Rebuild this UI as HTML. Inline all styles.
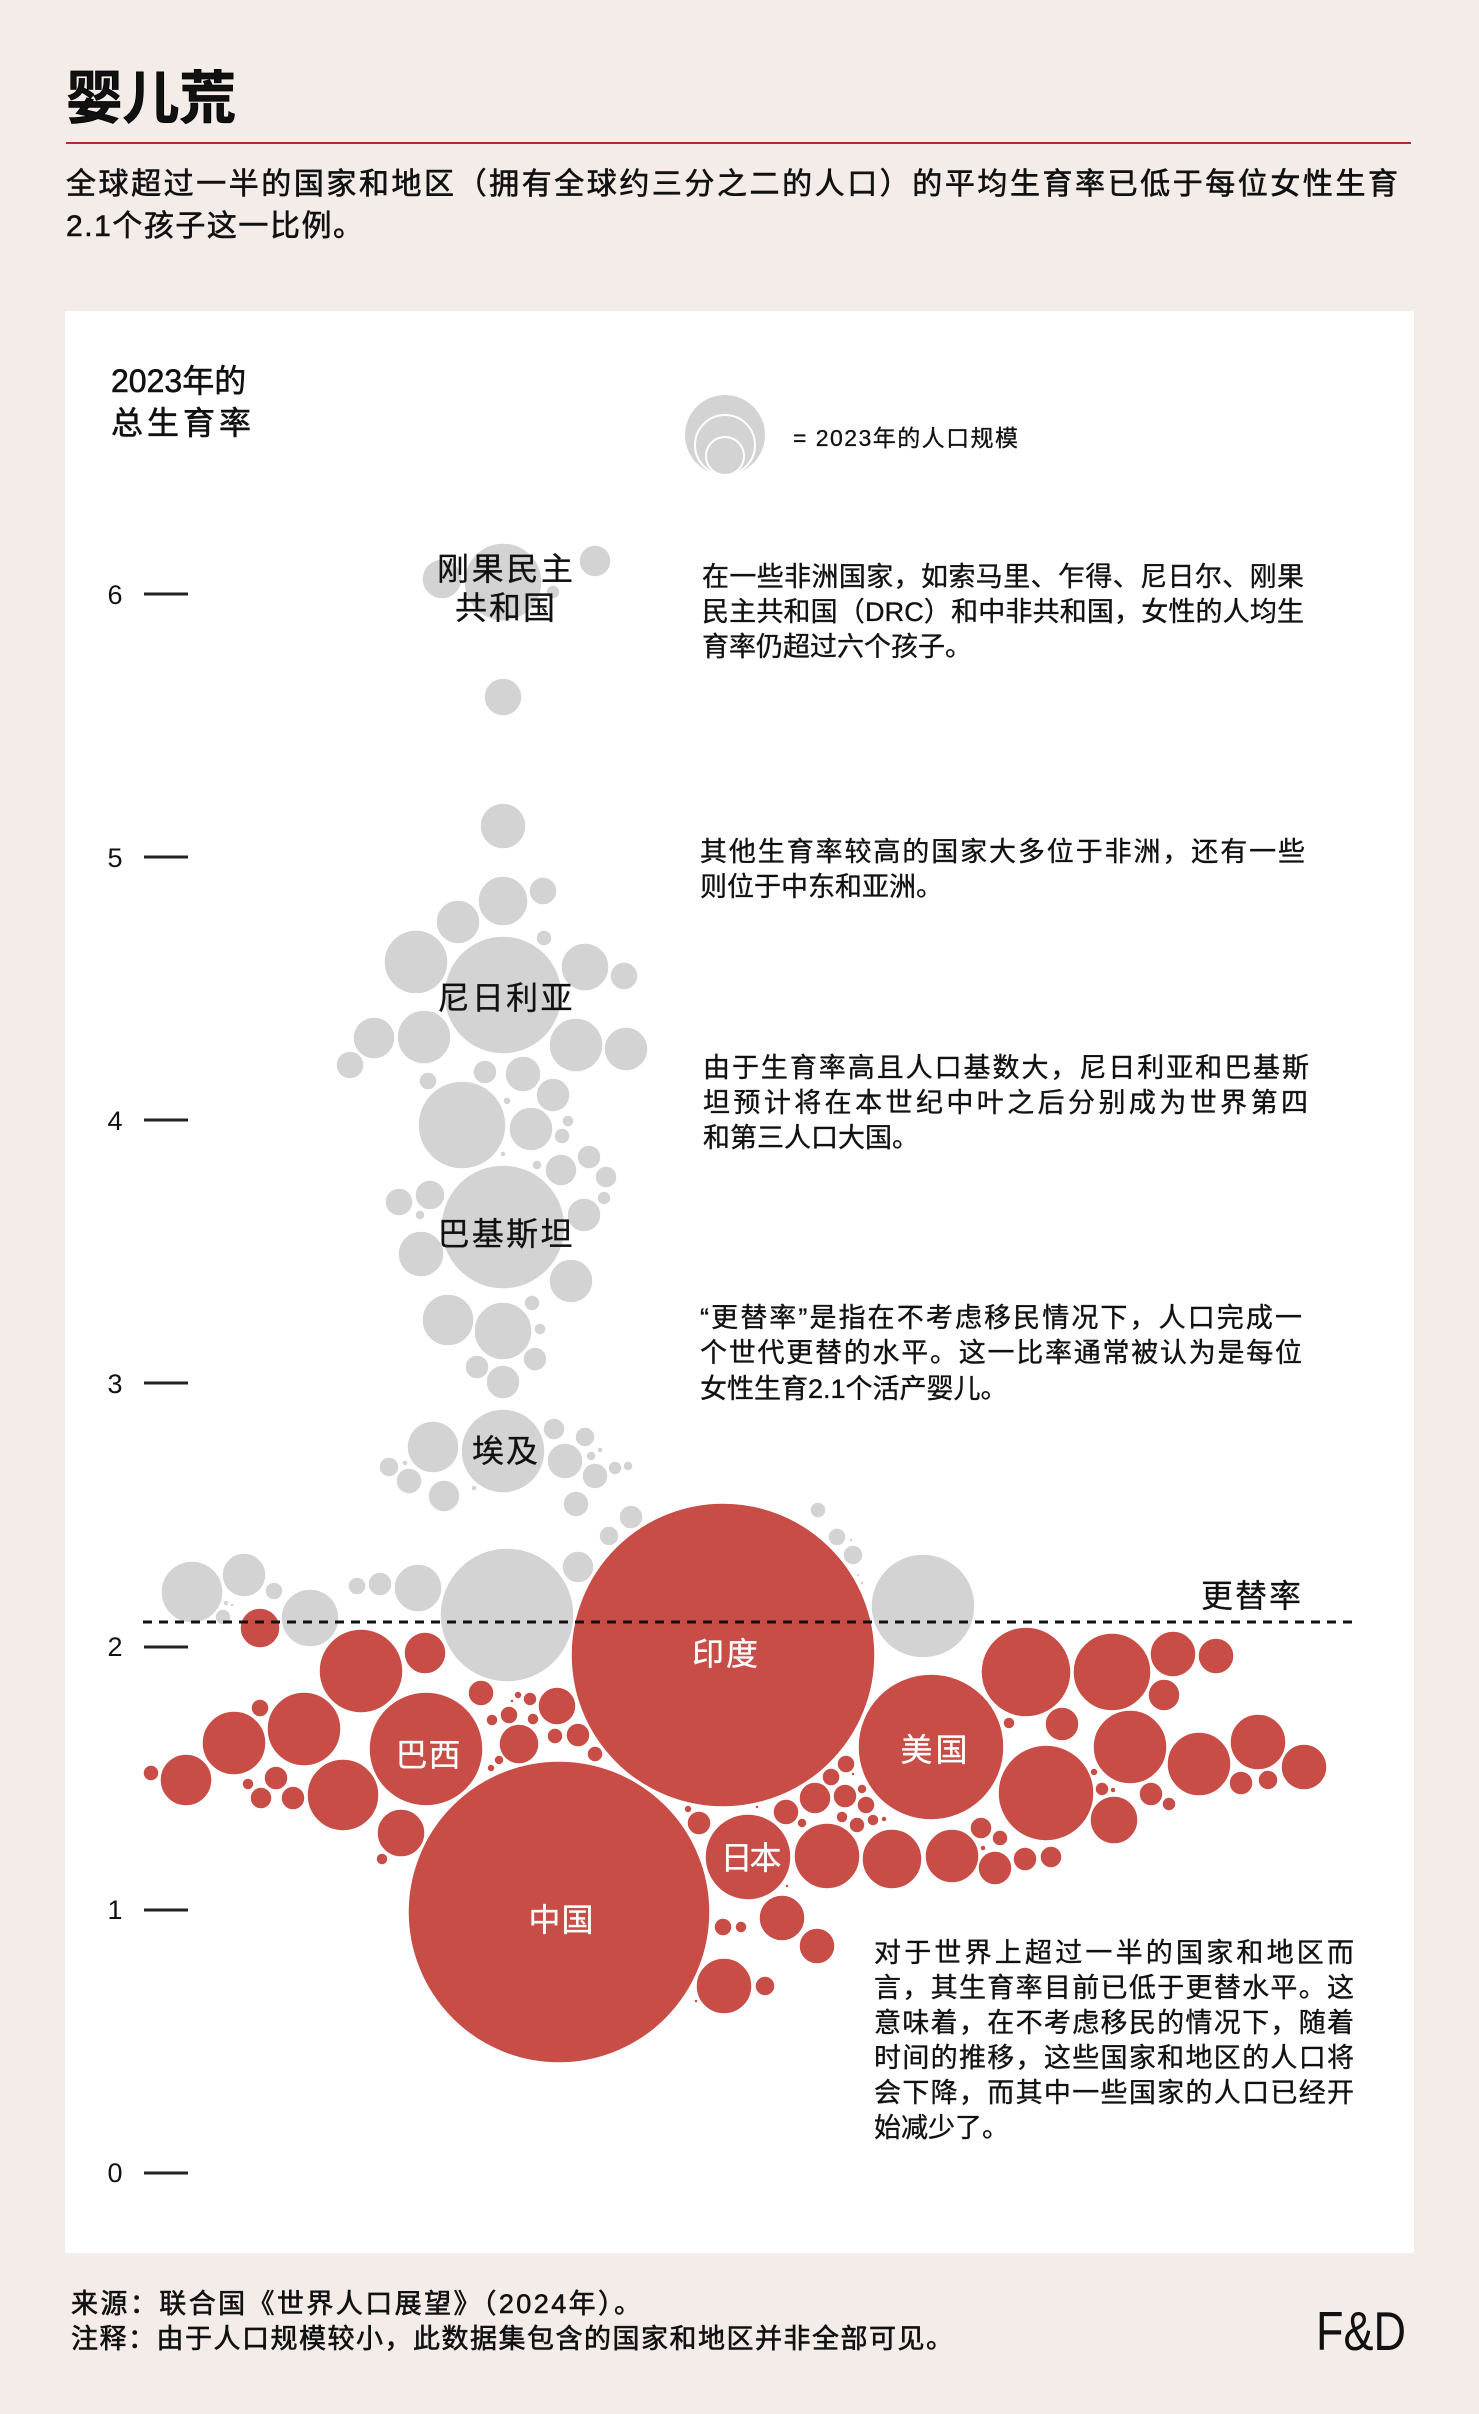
<!DOCTYPE html>
<html><head><meta charset="utf-8"><style>
html,body{margin:0;padding:0;background:#f3ece9;}
svg{display:block;}
text{font-family:"Liberation Sans","Noto Sans CJK SC",sans-serif;fill:#111;}
.g circle{fill:#d3d3d3;stroke:#fff;stroke-width:1.5;}
.r circle{fill:#c84d46;stroke:#fff;stroke-width:1.5;}
.ann{font-size:27px;stroke:#111;stroke-width:0.35px;}
.lbl{font-size:32px;stroke:#111;stroke-width:0.3px;}
.w{fill:#fff;stroke:#fff !important;}
.bold{stroke:#111;stroke-width:0.6px;}
</style></head><body>
<svg width="1479" height="2414" viewBox="0 0 1479 2414" xmlns="http://www.w3.org/2000/svg">
<rect width="1479" height="2414" fill="#f3ece9"/>
<text x="66" y="118" font-size="57" font-weight="bold" textLength="170" lengthAdjust="spacingAndGlyphs" stroke="#000" stroke-width="0.8">婴儿荒</text>
<line x1="66" y1="143" x2="1411" y2="143" stroke="#b8282f" stroke-width="2"/>
<text class="bold" x="66" y="194" font-size="30" textLength="1332" lengthAdjust="spacing">全球超过一半的国家和地区（拥有全球约三分之二的人口）的平均生育率已低于每位女性生育</text>
<text class="bold" x="66" y="236" font-size="30" textLength="297" lengthAdjust="spacing">2.1个孩子这一比例。</text>

<rect x="65" y="311" width="1349" height="1942" fill="#fff"/>

<text class="bold" x="111" y="392" font-size="32">2023年的</text>
<text class="bold" x="111" y="434" font-size="32" textLength="140" lengthAdjust="spacing">总生育率</text>

<!-- y axis -->
<g font-size="27" text-anchor="middle">
<text x="115" y="604">6</text>
<text x="115" y="867">5</text>
<text x="115" y="1130">4</text>
<text x="115" y="1393">3</text>
<text x="115" y="1656">2</text>
<text x="115" y="1919">1</text>
<text x="115" y="2182">0</text>
</g>
<g stroke="#222" stroke-width="3">
<line x1="144" y1="594" x2="188" y2="594"/>
<line x1="144" y1="857" x2="188" y2="857"/>
<line x1="144" y1="1120" x2="188" y2="1120"/>
<line x1="144" y1="1383" x2="188" y2="1383"/>
<line x1="144" y1="1647" x2="188" y2="1647"/>
<line x1="144" y1="1910" x2="188" y2="1910"/>
<line x1="144" y1="2173" x2="188" y2="2173"/>
</g>

<!-- legend -->
<circle cx="725" cy="435" r="40" fill="#d3d3d3"/>
<circle cx="725" cy="445" r="30" fill="#d3d3d3" stroke="#fff" stroke-width="2"/>
<circle cx="725" cy="456" r="19" fill="#d3d3d3" stroke="#fff" stroke-width="2"/>
<text x="793" y="446" font-size="23" textLength="225" lengthAdjust="spacing" stroke="#111" stroke-width="0.3">= 2023年的人口规模</text>

<!-- gray bubbles -->
<g class="g">
<circle cx="503" cy="582" r="39"/><circle cx="442" cy="579" r="20"/><circle cx="595" cy="561" r="16"/><circle cx="553" cy="592" r="7"/>
<circle cx="503" cy="697" r="19"/>
<circle cx="503" cy="826" r="23"/>
<circle cx="503" cy="901" r="25"/><circle cx="543" cy="891" r="14"/><circle cx="458" cy="922" r="22"/><circle cx="544" cy="938" r="8"/>
<circle cx="416" cy="962" r="32"/><circle cx="585" cy="967" r="24"/><circle cx="624" cy="976" r="14"/>
<circle cx="503" cy="995" r="59"/>
<circle cx="374" cy="1038" r="21"/><circle cx="424" cy="1037" r="27"/><circle cx="576" cy="1045" r="27"/><circle cx="626" cy="1049" r="22"/><circle cx="350" cy="1065" r="14"/>
<circle cx="428" cy="1081" r="9"/><circle cx="485" cy="1072" r="12"/><circle cx="523" cy="1074" r="18"/><circle cx="553" cy="1095" r="17"/>
<circle cx="462" cy="1125" r="44"/><circle cx="507" cy="1101" r="4"/><circle cx="531" cy="1129" r="22"/><circle cx="568" cy="1121" r="6"/><circle cx="562" cy="1136" r="8"/><circle cx="503" cy="1154" r="3"/><circle cx="589" cy="1157" r="12"/><circle cx="537" cy="1165" r="5"/><circle cx="561" cy="1170" r="16"/><circle cx="606" cy="1177" r="11"/><circle cx="604" cy="1198" r="7"/>
<circle cx="503" cy="1227" r="62"/><circle cx="399" cy="1202" r="14"/><circle cx="430" cy="1195" r="15"/><circle cx="420" cy="1215" r="5"/><circle cx="584" cy="1215" r="17"/><circle cx="421" cy="1254" r="23"/><circle cx="571" cy="1281" r="22"/>
<circle cx="448" cy="1320" r="26"/><circle cx="503" cy="1331" r="29"/><circle cx="532" cy="1303" r="8"/><circle cx="540" cy="1329" r="6"/><circle cx="535" cy="1359" r="12"/><circle cx="477" cy="1367" r="12"/><circle cx="503" cy="1382" r="17"/>
<circle cx="503" cy="1451" r="42"/><circle cx="433" cy="1447" r="26"/><circle cx="554" cy="1429" r="11"/><circle cx="585" cy="1437" r="10"/><circle cx="565" cy="1461" r="18"/><circle cx="591" cy="1456" r="5"/><circle cx="600" cy="1450" r="3"/><circle cx="595" cy="1476" r="13"/><circle cx="615" cy="1468" r="7"/><circle cx="628" cy="1466" r="5"/><circle cx="389" cy="1467" r="10"/><circle cx="405" cy="1463" r="3"/><circle cx="409" cy="1481" r="13"/><circle cx="444" cy="1496" r="16"/><circle cx="474" cy="1488" r="3"/><circle cx="576" cy="1504" r="13"/><circle cx="631" cy="1517" r="12"/><circle cx="609" cy="1536" r="10"/><circle cx="818" cy="1510" r="8"/>
<circle cx="578" cy="1567" r="16"/><circle cx="192" cy="1592" r="31"/><circle cx="244" cy="1575" r="22"/><circle cx="274" cy="1591" r="9"/><circle cx="226" cy="1603" r="3"/><circle cx="232" cy="1605" r="2"/><circle cx="223" cy="1617" r="8"/><circle cx="310" cy="1618" r="29"/><circle cx="357" cy="1586" r="9"/><circle cx="380" cy="1584" r="12"/><circle cx="418" cy="1588" r="24"/><circle cx="507" cy="1615" r="67"/>
<circle cx="837" cy="1537" r="9"/><circle cx="851" cy="1540" r="2"/><circle cx="853" cy="1555" r="10"/><circle cx="858" cy="1575" r="2"/><circle cx="862" cy="1583" r="2"/><circle cx="923" cy="1606" r="52"/>
</g>

<!-- red bubbles -->
<g class="r">
<circle cx="260" cy="1628" r="20"/>
<circle cx="361" cy="1671" r="42"/><circle cx="425" cy="1653" r="21"/><circle cx="481" cy="1693" r="13"/><circle cx="518" cy="1695" r="4"/><circle cx="512" cy="1701" r="2"/><circle cx="530" cy="1699" r="7"/><circle cx="557" cy="1706" r="19"/><circle cx="509" cy="1715" r="9"/><circle cx="492" cy="1720" r="6"/><circle cx="533" cy="1719" r="6"/><circle cx="555" cy="1736" r="8"/><circle cx="578" cy="1735" r="12"/><circle cx="595" cy="1754" r="8"/><circle cx="519" cy="1744" r="20"/><circle cx="499" cy="1760" r="5"/><circle cx="491" cy="1768" r="4"/>
<circle cx="426" cy="1749" r="57"/>
<circle cx="260" cy="1708" r="9"/><circle cx="304" cy="1729" r="37"/><circle cx="234" cy="1743" r="32"/><circle cx="186" cy="1780" r="26"/><circle cx="151" cy="1773" r="8"/><circle cx="276" cy="1778" r="12"/><circle cx="248" cy="1784" r="6"/><circle cx="261" cy="1798" r="11"/><circle cx="293" cy="1798" r="12"/><circle cx="343" cy="1795" r="36"/><circle cx="401" cy="1833" r="24"/><circle cx="382" cy="1859" r="6"/>
<circle cx="559" cy="1912" r="151"/>
<circle cx="723" cy="1655" r="152"/>
<circle cx="931" cy="1747" r="73"/>
<circle cx="1026" cy="1672" r="45"/><circle cx="1009" cy="1723" r="6"/><circle cx="1062" cy="1724" r="17"/><circle cx="1046" cy="1793" r="48"/>
<circle cx="846" cy="1764" r="9"/><circle cx="831" cy="1777" r="9"/><circle cx="853" cy="1774" r="2"/><circle cx="815" cy="1798" r="16"/><circle cx="845" cy="1796" r="12"/><circle cx="862" cy="1789" r="5"/><circle cx="866" cy="1805" r="9"/><circle cx="786" cy="1812" r="13"/><circle cx="802" cy="1823" r="5"/><circle cx="842" cy="1817" r="6"/><circle cx="857" cy="1825" r="8"/><circle cx="873" cy="1820" r="6"/><circle cx="884" cy="1819" r="3"/><circle cx="757" cy="1807" r="2"/><circle cx="688" cy="1809" r="4"/><circle cx="699" cy="1823" r="12"/>
<circle cx="748" cy="1857" r="43"/><circle cx="827" cy="1856" r="33"/><circle cx="892" cy="1859" r="30"/><circle cx="952" cy="1856" r="27"/><circle cx="981" cy="1828" r="11"/><circle cx="1000" cy="1838" r="8"/><circle cx="983" cy="1848" r="3"/><circle cx="995" cy="1868" r="17"/><circle cx="1025" cy="1859" r="12"/><circle cx="1051" cy="1857" r="11"/><circle cx="787" cy="1886" r="2"/>
<circle cx="1112" cy="1672" r="39"/><circle cx="1173" cy="1654" r="23"/><circle cx="1216" cy="1656" r="18"/><circle cx="1164" cy="1695" r="16"/><circle cx="1130" cy="1747" r="37"/><circle cx="1258" cy="1742" r="28"/><circle cx="1304" cy="1767" r="23"/><circle cx="1199" cy="1764" r="32"/><circle cx="1241" cy="1783" r="12"/><circle cx="1268" cy="1780" r="10"/><circle cx="1094" cy="1772" r="4"/><circle cx="1102" cy="1789" r="7"/><circle cx="1113" cy="1790" r="3"/><circle cx="1151" cy="1794" r="12"/><circle cx="1169" cy="1804" r="7"/><circle cx="1114" cy="1820" r="24"/>
<circle cx="723" cy="1927" r="9"/><circle cx="741" cy="1927" r="6"/><circle cx="782" cy="1918" r="23"/><circle cx="817" cy="1946" r="18"/><circle cx="724" cy="1986" r="28"/><circle cx="765" cy="1986" r="10"/><circle cx="696" cy="2001" r="2"/>
</g>

<!-- replacement line -->
<line x1="143" y1="1622" x2="1354" y2="1622" stroke="#111" stroke-width="3" stroke-dasharray="9 7"/>
<text x="1201" y="1607" font-size="32" textLength="100" lengthAdjust="spacing" stroke="#111" stroke-width="0.3">更替率</text>

<!-- bubble labels -->
<g class="lbl" text-anchor="middle">
<text x="505" y="580" textLength="136" lengthAdjust="spacing">刚果民主</text>
<text x="505" y="619" textLength="100" lengthAdjust="spacing">共和国</text>
<text x="505" y="1009" textLength="135" lengthAdjust="spacing">尼日利亚</text>
<text x="505" y="1245" textLength="135" lengthAdjust="spacing">巴基斯坦</text>
<text x="505" y="1462" textLength="66" lengthAdjust="spacing">埃及</text>
<text class="w" x="725" y="1665" textLength="66" lengthAdjust="spacing">印度</text>
<text class="w" x="934" y="1761" textLength="67" lengthAdjust="spacing">美国</text>
<text class="w" x="751" y="1869" textLength="61" lengthAdjust="spacing">日本</text>
<text class="w" x="428" y="1766" textLength="65" lengthAdjust="spacing">巴西</text>
<text class="w" x="561" y="1931" textLength="65" lengthAdjust="spacing">中国</text>
</g>

<!-- annotations -->
<g class="ann">
<text x="702" y="586" textLength="602" lengthAdjust="spacing">在一些非洲国家，如索马里、乍得、尼日尔、刚果</text>
<text x="702" y="621" textLength="602" lengthAdjust="spacing">民主共和国（DRC）和中非共和国，女性的人均生</text>
<text x="702" y="656">育率仍超过六个孩子。</text>

<text x="700" y="861" textLength="605" lengthAdjust="spacing">其他生育率较高的国家大多位于非洲，还有一些</text>
<text x="700" y="896">则位于中东和亚洲。</text>

<text x="703" y="1077" textLength="606" lengthAdjust="spacing">由于生育率高且人口基数大，尼日利亚和巴基斯</text>
<text x="703" y="1112" textLength="605" lengthAdjust="spacing">坦预计将在本世纪中叶之后分别成为世界第四</text>
<text x="703" y="1147">和第三人口大国。</text>

<text x="700" y="1327" textLength="602" lengthAdjust="spacing">“更替率”是指在不考虑移民情况下，人口完成一</text>
<text x="700" y="1362" textLength="602" lengthAdjust="spacing">个世代更替的水平。这一比率通常被认为是每位</text>
<text x="700" y="1398">女性生育2.1个活产婴儿。</text>

<text x="874" y="1962" textLength="480" lengthAdjust="spacing">对于世界上超过一半的国家和地区而</text>
<text x="874" y="1997" textLength="480" lengthAdjust="spacing">言，其生育率目前已低于更替水平。这</text>
<text x="874" y="2032" textLength="480" lengthAdjust="spacing">意味着，在不考虑移民的情况下，随着</text>
<text x="874" y="2067" textLength="480" lengthAdjust="spacing">时间的推移，这些国家和地区的人口将</text>
<text x="874" y="2102" textLength="480" lengthAdjust="spacing">会下降，而其中一些国家的人口已经开</text>
<text x="874" y="2137">始减少了。</text>
</g>

<!-- footer -->
<text class="bold" x="71" y="2313" font-size="27" textLength="570" lengthAdjust="spacing">来源：联合国《世界人口展望》（2024年）。</text>
<text class="bold" x="71" y="2348" font-size="27" textLength="882" lengthAdjust="spacing">注释：由于人口规模较小，此数据集包含的国家和地区并非全部可见。</text>
<text x="1316" y="2350" font-size="55" textLength="90" lengthAdjust="spacingAndGlyphs">F&amp;D</text>
</svg>
</body></html>
